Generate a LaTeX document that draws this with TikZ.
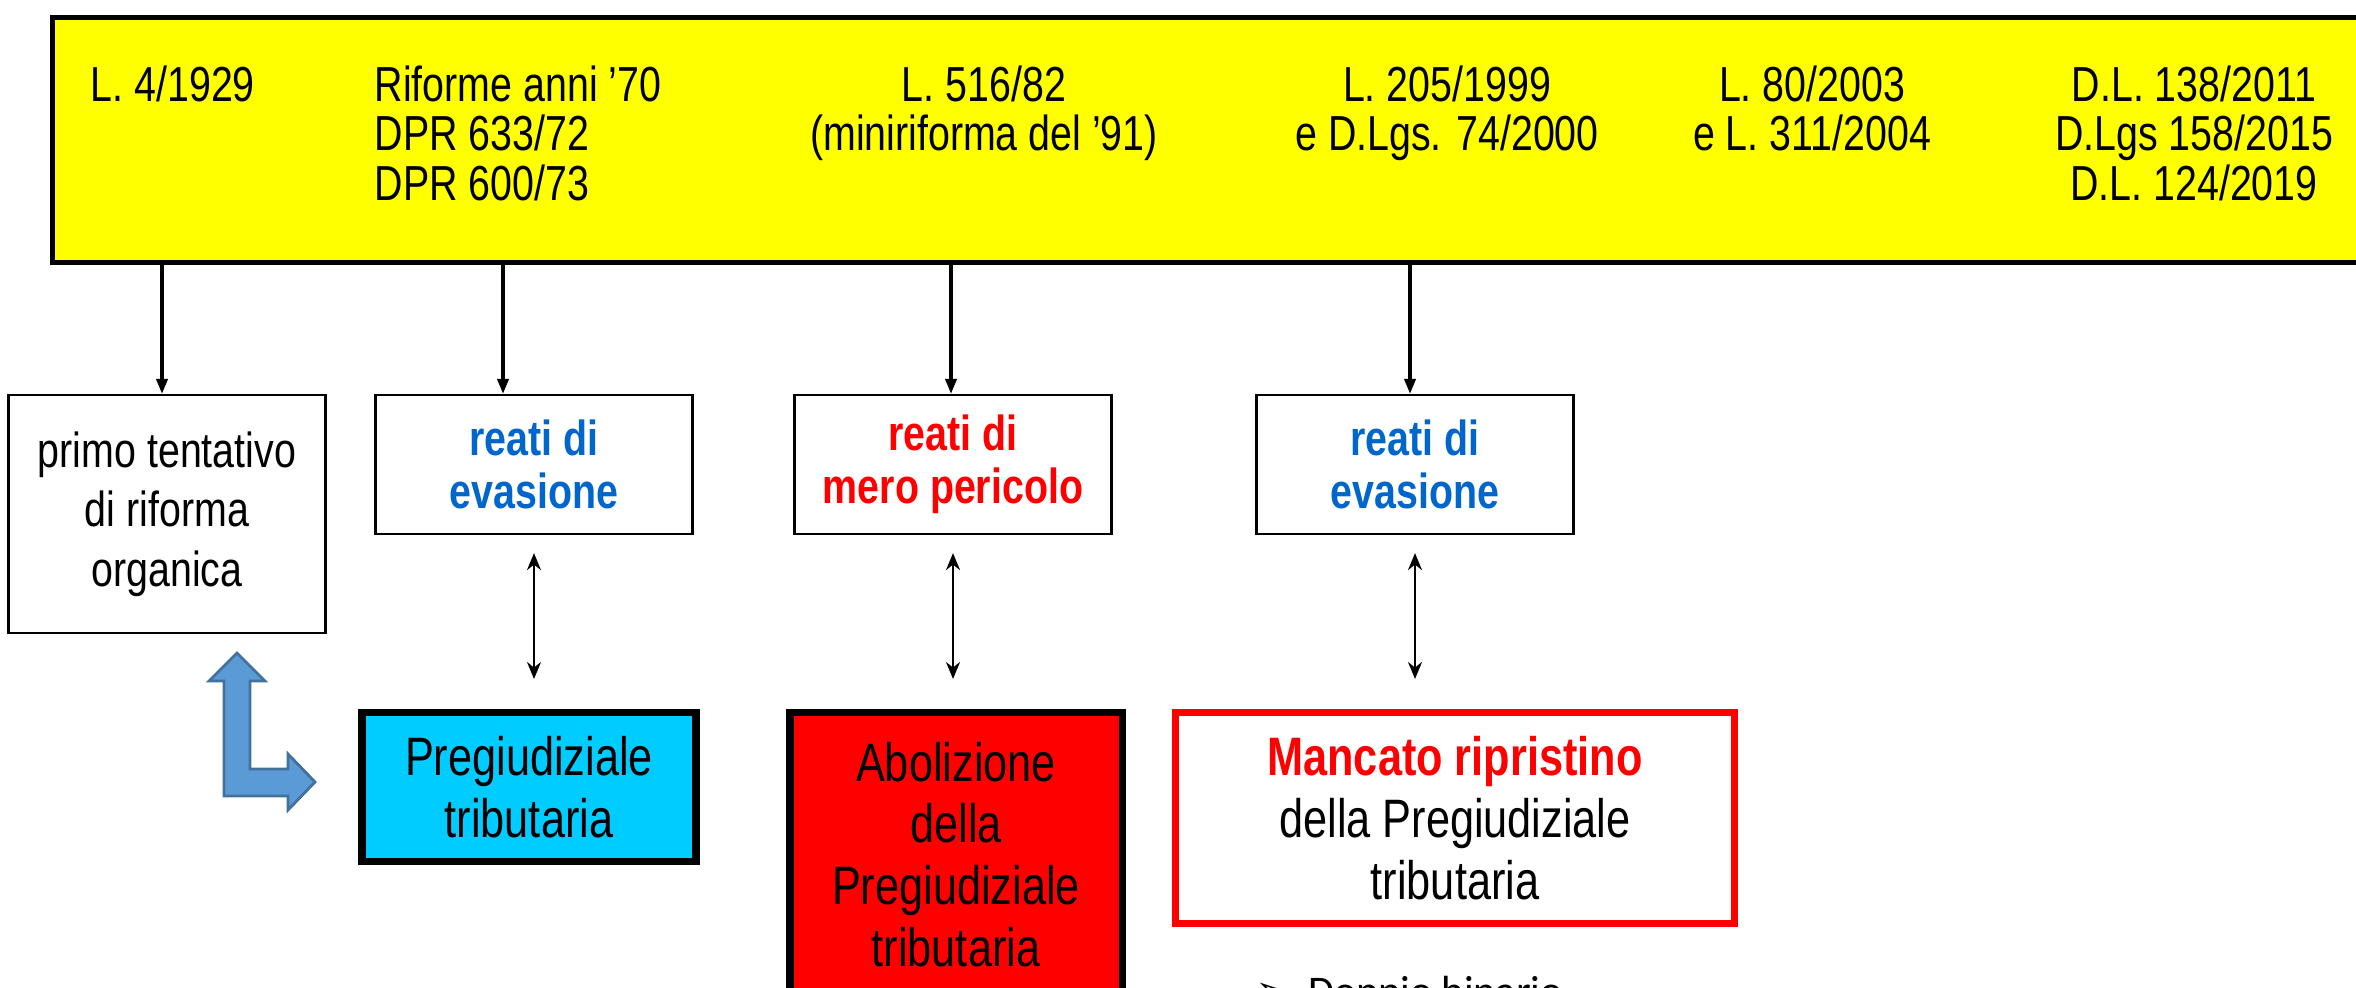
\documentclass[tikz,border=0pt]{standalone}
\usepackage{fontspec}
\setmainfont{Liberation Sans}[FakeStretch=0.8]
\newfontfamily\bulletfont{DejaVu Sans}
\newfontfamily\notefont{Carlito}
\usepackage{tikz}
\usetikzlibrary{arrows.meta,positioning}

\definecolor{bandyellow}{RGB}{255,255,0}
\definecolor{evblue}{RGB}{0,102,204}
\definecolor{pregcyan}{RGB}{0,204,255}
\definecolor{bentblue}{RGB}{91,155,213}
\definecolor{bentedge}{RGB}{65,113,156}

\begin{document}
\begin{tikzpicture}[font=\fontsize{14}{14.1}\selectfont]

\useasboundingbox (0,0) rectangle (23.56,-9.88);

% Styles
\tikzset{
  band/.style={
    draw,
    line width=1.4pt,
    fill=bandyellow,
    rectangle,
    anchor=north west,
    minimum width=23.4cm,
    minimum height=2.45cm,
    inner sep=0
  },
  law/.style={
    anchor=north,
    align=center,
    inner sep=0
  },
  plain/.style={
    draw,
    line width=0.6pt,
    rectangle,
    anchor=north,
    minimum width=3.17cm,
    minimum height=1.39cm,
    align=center,
    font=\fontsize{14}{15}\selectfont
  },
  crime/.style={
    plain,
    font=\fontsize{14}{15}\selectfont\bfseries
  },
  outcome/.style={
    draw,
    line width=2pt,
    rectangle,
    anchor=north,
    align=center,
    font=\fontsize{15.4}{17.6}\selectfont
  },
  push/.style={
    -{Triangle[length=1.5mm, width=1.1mm]},
    line width=1pt
  },
  link/.style={
    {Stealth[length=1.7mm, width=1.4mm]}-{Stealth[length=1.7mm, width=1.4mm]},
    line width=0.6pt
  }
}

% Timeline band
\node[band] (band) at (0.50,-0.15) {};
\node[law, anchor=north west, align=left] (l29) at (0.90,-0.65) {L. 4/1929};
\node[law, anchor=north west, align=left] (l70) at (3.74,-0.65) {Riforme anni ’70\\DPR 633/72\\DPR 600/73};
\node[law] (l82) at (9.84,-0.65) {L. 516/82\\(miniriforma del ’91)};
\node[law] (l99) at (14.47,-0.65) {L. 205/1999\\e D.Lgs. 74/2000};
\node[law] (l03) at (18.12,-0.65) {L. 80/2003\\e L. 311/2004};
\node[law] (l11) at (21.94,-0.65) {D.L. 138/2011\\D.Lgs 158/2015\\D.L. 124/2019};

% Effects of each reform
\node[plain, minimum height=2.38cm, font=\fontsize{14}{17}\selectfont] (primo) at (1.67,-3.94) {primo tentativo\\di riforma\\organica};
\node[crime, text=evblue] (rev1) at (5.34,-3.94) {reati di\\evasione};
\node[crime, text=red] (rev2) at (9.53,-3.94) {reati di\\mero pericolo};
\node[crime, text=evblue] (rev3) at (14.15,-3.94) {reati di\\evasione};

% Pregiudiziale tributaria
\node[outcome, fill=pregcyan, minimum width=3.34cm, minimum height=1.49cm] (preg) at (5.29,-7.09) {Pregiudiziale\\tributaria};
\node[outcome, fill=red, minimum width=3.32cm, minimum height=2.84cm] (abol) at (9.56,-7.09) {Abolizione\\della\\Pregiudiziale\\tributaria};
\node[outcome, draw=red, fill=white, minimum width=5.59cm, minimum height=2.11cm] (manc) at (14.55,-7.09) {\textcolor{red}{\bfseries Mancato ripristino}\\della Pregiudiziale\\tributaria};

\node[anchor=base west, inner sep=0] (doppio) at (12.55,-10.05) {{\bulletfont\fontsize{12}{14}\selectfont ➢}\hspace{0.17cm}{\notefont\fontsize{12}{14}\selectfont Doppio binario}};

% Arrows from the band
\coordinate (a1) at (1.62,-2.645);
\coordinate (a2) at (5.03,-2.645);
\coordinate (a3) at (9.51,-2.645);
\coordinate (a4) at (14.10,-2.645);
\draw[push] (a1) -- (a1 |- primo.north);
\draw[push] (a2) -- (a2 |- rev1.north);
\draw[push] (a3) -- (a3 |- rev2.north);
\draw[push] (a4) -- (a4 |- rev3.north);

% Links to the outcomes
\draw[link] ([yshift=-0.18cm]rev1.south) -- ([yshift=0.3cm]rev1.south |- preg.north);
\draw[link] ([yshift=-0.18cm]rev2.south) -- ([yshift=0.3cm]rev2.south |- abol.north);
\draw[link] ([yshift=-0.18cm]rev3.south) -- ([yshift=0.3cm]rev3.south |- manc.north);

% Bent double arrow
\draw[fill=bentblue, draw=bentedge, line width=0.8pt]
  (2.37,-6.53) -- (2.65,-6.81) -- (2.50,-6.81) -- (2.50,-7.69) -- (2.88,-7.69)
  -- (2.88,-7.54) -- (3.15,-7.82) -- (2.88,-8.10) -- (2.88,-7.96) -- (2.24,-7.96)
  -- (2.24,-6.81) -- (2.09,-6.81) -- cycle;

\end{tikzpicture}
\end{document}
